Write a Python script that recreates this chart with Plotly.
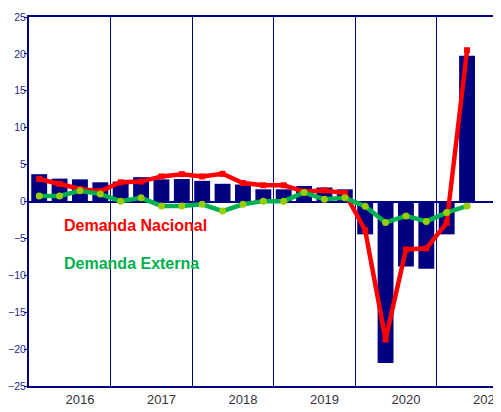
import plotly.graph_objects as go

years = ["2016", "2017", "2018", "2019", "2020", "2021"]
quarters_per_year = 4
n_quarters = 22  # 2016T1 .. 2021T2

pib = [3.7, 3.1, 3.0, 2.6, 2.7, 3.3, 3.0, 3.05,
       2.8, 2.4, 2.3, 1.65, 1.65, 2.1, 1.9, 1.65,
       -4.45, -21.9, -8.8, -9.1, -4.45, 19.75]
demanda_nacional = [3.05, 2.4, 1.7, 1.4, 2.6, 2.7, 3.4, 3.7,
                    3.4, 3.75, 2.5, 2.2, 2.2, 1.35, 1.5, 1.15,
                    -3.9, -18.7, -6.5, -6.35, -2.9, 20.5]
demanda_externa = [0.75, 0.75, 1.45, 1.0, 0.05, 0.5, -0.6, -0.6,
                   -0.38, -1.3, -0.38, 0.05, 0.05, 1.22, 0.3, 0.5,
                   -0.65, -2.85, -1.95, -2.7, -1.5, -0.6]
y_ticks = [-25, -20, -15, -10, -5, 0, 5, 10, 15, 20, 25]

x = list(range(n_quarters))
navy = "#000080"
font = "Arial, Liberation Sans, sans-serif"

fig = go.Figure()
fig.add_trace(go.Bar(x=x, y=pib, marker=dict(color=navy, line=dict(width=0)),
                     width=0.78, showlegend=False))
fig.add_trace(go.Scatter(x=x, y=demanda_nacional, mode="lines+markers",
                         line=dict(color="#ff0000", width=4.5),
                         marker=dict(symbol="square", size=6, color="#ff0000"),
                         showlegend=False))
fig.add_trace(go.Scatter(x=x, y=demanda_externa, mode="lines+markers",
                         line=dict(color="#00b050", width=4.5),
                         marker=dict(symbol="circle", size=7, color="#99cc00"),
                         showlegend=False))

fig.add_annotation(text="<b>Demanda Nacional</b>", xref="x", yref="y",
                   x=1.1, y=-3.3, xanchor="left", yanchor="middle",
                   showarrow=False, font=dict(family=font, size=16, color="#ff0000"))
fig.add_annotation(text="<b>Demanda Externa</b>", xref="x", yref="y",
                   x=1.1, y=-8.35, xanchor="left", yanchor="middle",
                   showarrow=False, font=dict(family=font, size=16, color="#00b050"))

# page body has an 8px margin; the figure is sized to end at the window edge
fig_w, fig_h = 493, 404
left, top, bottom = 21, 9, 26
quarter_px = 20.375
x_range = [-0.5, -0.5 + (fig_w - left) / quarter_px]

fig.update_layout(
    width=fig_w, height=fig_h,
    margin=dict(l=left, r=0, t=top, b=bottom, pad=0, autoexpand=False),
    paper_bgcolor="white", plot_bgcolor="white",
    showlegend=False,
    font=dict(family=font),
    xaxis=dict(range=x_range,
               tickvals=[i * quarters_per_year + 2 for i in range(len(years))],
               ticktext=years, ticks="", showgrid=False, zeroline=False,
               showline=True, linecolor=navy, linewidth=2, mirror=True,
               tickfont=dict(size=13, color="#333340"),
               ticklabeloverflow="allow",
               minor=dict(tick0=quarters_per_year - 0.5, dtick=quarters_per_year,
                          showgrid=True, gridcolor=navy, gridwidth=1, ticks=""),
               automargin=False),
    yaxis=dict(range=[-25, 25], tickvals=y_ticks, showgrid=False,
               zeroline=True, zerolinecolor=navy, zerolinewidth=2,
               showline=True, linecolor=navy, linewidth=2,
               ticks="outside", ticklen=3, tickcolor=navy, tickwidth=1,
               ticklabelstandoff=-4,
               ticklabeloverflow="allow",
               tickfont=dict(size=10.5, color="#27278a"), automargin=False),
)

fig.write_html("out.html")
